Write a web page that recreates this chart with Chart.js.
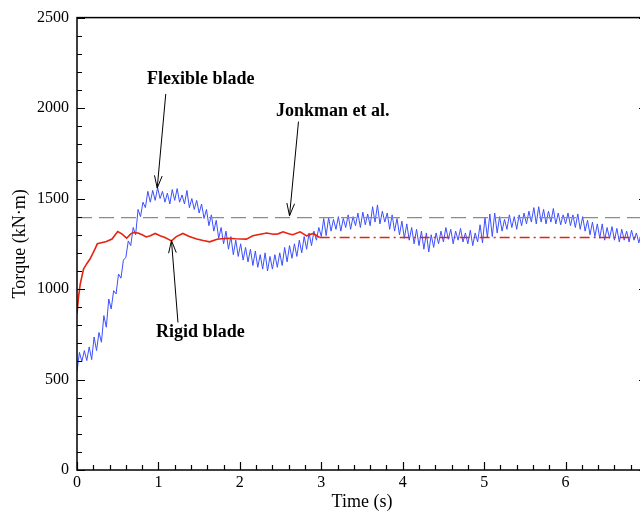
<!DOCTYPE html>
<html lang="en">
<head>
<meta charset="UTF-8">
<title>Torque</title>
<style>
  html, body { margin: 0; padding: 0; overflow: hidden; background: #fff; }
  #wrap { width: 650px; height: 514px; }
</style>
</head>
<body>
<div id="wrap"><canvas id="myChart"></canvas></div>

<script src="https://cdn.jsdelivr.net/npm/chart.js"></script>
<script>
// sampling step of the flexible blade signal (s)
const dt = 0.03;

// flexible blade torque, one value every dt
const flexTorque = [
  545, 650, 600, 660, 605, 680, 610, 735, 660, 760,
  706, 853, 789, 945, 890, 991, 973, 1083, 1060, 1160,
  1175, 1266, 1240, 1340, 1300, 1440, 1400, 1480, 1450, 1540,
  1480, 1545, 1490, 1560, 1500, 1540, 1480, 1530, 1470, 1550,
  1490, 1555, 1480, 1520, 1470, 1545, 1450, 1500, 1440, 1490,
  1420, 1470, 1390, 1440, 1350, 1410, 1320, 1380, 1280, 1340,
  1250, 1320, 1220, 1290, 1190, 1270, 1180, 1250, 1160, 1230,
  1150, 1220, 1130, 1210, 1120, 1190, 1110, 1200, 1100, 1180,
  1110, 1190, 1120, 1200, 1130, 1230, 1150, 1240, 1170, 1250,
  1180, 1270, 1200, 1290, 1220, 1310, 1240, 1320, 1270, 1340,
  1290, 1390, 1295, 1395, 1320, 1385, 1330, 1400, 1320, 1390,
  1340, 1410, 1330, 1400, 1350, 1420, 1340, 1425, 1355, 1415,
  1350, 1455, 1370, 1465, 1360, 1430, 1370, 1420, 1330, 1410,
  1320, 1390, 1300, 1375, 1280, 1360, 1270, 1340, 1250, 1330,
  1240, 1320, 1220, 1310, 1205, 1300, 1230, 1310, 1250, 1320,
  1260, 1340, 1275, 1330, 1250, 1320, 1270, 1335, 1260, 1310,
  1250, 1325, 1240, 1310, 1260, 1355, 1255, 1395, 1285, 1415,
  1290, 1420, 1310, 1400, 1320, 1385, 1330, 1410, 1340, 1400,
  1330, 1410, 1350, 1420, 1360, 1430, 1370, 1450, 1360, 1455,
  1370, 1440, 1360, 1430, 1370, 1445, 1360, 1420, 1355, 1410,
  1360, 1420, 1350, 1410, 1340, 1415, 1330, 1400, 1320, 1380,
  1300, 1370, 1290, 1360, 1280, 1360, 1270, 1340, 1280, 1345,
  1270, 1335, 1260, 1330, 1270, 1320, 1260, 1325, 1270, 1310,
  1255, 1310, 1270, 1305, 1265
];

// rigid blade torque (solid part)
const rigidTime = [0, 0.02, 0.04, 0.08, 0.12, 0.16, 0.22, 0.25, 0.3, 0.36, 0.43, 0.47, 0.5, 0.55, 0.61, 0.66, 0.69,
  0.75, 0.8, 0.85, 0.9, 0.96, 1.02, 1.08, 1.16, 1.22, 1.3, 1.38, 1.47, 1.55, 1.63, 1.72, 1.84, 1.95, 2.08,
  2.16, 2.25, 2.33, 2.41, 2.47, 2.53, 2.6, 2.65, 2.74, 2.82, 2.9, 2.98];
const rigidTorque = [865, 960, 1028, 1110, 1140, 1166, 1221, 1250, 1256, 1263, 1276, 1300, 1318, 1305, 1281, 1305, 1312,
  1310, 1300, 1288, 1295, 1307, 1295, 1285, 1266, 1290, 1307, 1290, 1276, 1268, 1261, 1275, 1281, 1278, 1276,
  1294, 1303, 1310, 1303, 1305, 1316, 1305, 1300, 1316, 1294, 1307, 1285];

// rigid blade steady value (dash-dot)
const rigidSteadyTime = [2.98, 7];
const rigidSteadyTorque = [1285, 1285];

// Jonkman et al. reference
const jonkmanTime = [0, 7];
const jonkmanTorque = [1395, 1395];

const xTicks = [0, 1, 2, 3, 4, 5, 6];
const yTicks = [0, 500, 1000, 1500, 2000, 2500];

const serif = '"Liberation Serif", "Times New Roman", serif';

const pts = (xs, ys) => ys.map((y, i) => ({ x: xs[i], y: y }));
const flexTime = flexTorque.map((v, i) => i * dt);

// labels with arrows, in data coordinates
const notes = [
  { text: 'Flexible blade', tx: 1.52, ty: 2158, x0: 1.09, y0: 2078, x1: 0.985, y1: 1558 },
  { text: 'Jonkman et al.', tx: 3.14, ty: 1982, x0: 2.72, y0: 1925, x1: 2.61, y1: 1405 },
  { text: 'Rigid blade', tx: 1.515, ty: 761, x0: 1.24, y0: 815, x1: 1.16, y1: 1268 }
];

const framePlugin = {
  id: 'frame',
  afterDraw(chart) {
    const c = chart.ctx;
    const a = chart.chartArea;
    const xs = chart.scales.x, ys = chart.scales.y;
    c.save();
    c.strokeStyle = '#000';
    c.lineWidth = 1.5;
    c.strokeRect(a.left, a.top, a.right - a.left, a.bottom - a.top);

    // inward ticks
    c.lineWidth = 1.2;
    c.beginPath();
    for (let v = 0; v <= 2500; v += 100) {
      const y = Math.round(ys.getPixelForValue(v)) + 0.5;
      const len = v % 500 === 0 ? 8 : 5;
      c.moveTo(a.left, y); c.lineTo(a.left + len, y);
      if (v % 500 === 0) { c.moveTo(a.right, y); c.lineTo(a.right - len, y); }
    }
    for (let k = 0; k <= 35; k++) {
      const x = Math.round(xs.getPixelForValue(k * 0.2)) + 0.5;
      const len = k % 5 === 0 ? 8 : 5;
      c.moveTo(x, a.bottom); c.lineTo(x, a.bottom - len);
    }
    c.stroke();

    // annotations
    c.font = 'bold 18px ' + serif;
    c.fillStyle = '#000';
    c.textAlign = 'center';
    c.textBaseline = 'middle';
    c.lineWidth = 1;
    notes.forEach(n => {
      c.fillText(n.text, xs.getPixelForValue(n.tx), ys.getPixelForValue(n.ty));
      const px0 = xs.getPixelForValue(n.x0), py0 = ys.getPixelForValue(n.y0);
      const px1 = xs.getPixelForValue(n.x1), py1 = ys.getPixelForValue(n.y1);
      const ang = Math.atan2(py1 - py0, px1 - px0);
      c.beginPath();
      c.moveTo(px0, py0); c.lineTo(px1, py1);
      c.moveTo(px1 - 13 * Math.cos(ang - 0.3), py1 - 13 * Math.sin(ang - 0.3));
      c.lineTo(px1, py1);
      c.lineTo(px1 - 13 * Math.cos(ang + 0.3), py1 - 13 * Math.sin(ang + 0.3));
      c.stroke();
    });
    c.restore();
  }
};

new Chart(document.getElementById('myChart'), {
  type: 'line',
  data: {
    datasets: [
      {
        label: 'Rigid blade',
        data: pts(rigidTime, rigidTorque),
        borderColor: 'rgb(230, 35, 15)',
        borderWidth: 1.6,
        pointRadius: 0
      },
      {
        label: 'Rigid blade steady',
        data: pts(rigidSteadyTime, rigidSteadyTorque),
        borderColor: 'rgb(230, 35, 15)',
        borderWidth: 1.6,
        borderDash: [10, 4, 2, 4],
        pointRadius: 0
      },
      {
        label: 'Jonkman et al.',
        data: pts(jonkmanTime, jonkmanTorque),
        borderColor: 'rgb(140, 140, 140)',
        borderWidth: 1.3,
        borderDash: [15, 7],
        pointRadius: 0
      },
      {
        label: 'Flexible blade',
        data: pts(flexTime, flexTorque),
        borderColor: 'rgb(60, 80, 255)',
        borderWidth: 1,
        pointRadius: 0
      }
    ]
  },
  options: {
    responsive: true,
    maintainAspectRatio: false,
    animation: false,
    layout: { padding: { top: 16, right: 3, left: 0, bottom: 0 } },
    plugins: { legend: { display: false }, tooltip: { enabled: false } },
    scales: {
      x: {
        type: 'linear',
        min: 0,
        max: 7,
        afterBuildTicks: s => { s.ticks = xTicks.map(v => ({ value: v })); },
        afterFit: s => { s.height = 44; },
        grid: { display: false, drawTicks: false },
        border: { display: false },
        ticks: { color: '#000', padding: 3, font: { family: serif, size: 16 }, callback: v => String(v) },
        title: { display: true, text: 'Time (s)', color: '#000', padding: { top: 0, bottom: 1 }, font: { family: serif, size: 18 } }
      },
      y: {
        min: 0,
        max: 2500,
        afterBuildTicks: s => { s.ticks = yTicks.map(v => ({ value: v })); },
        afterFit: s => { s.width = 77; },
        grid: { display: false, drawTicks: false },
        border: { display: false },
        ticks: { color: '#000', padding: 8, font: { family: serif, size: 16 }, callback: v => String(v) },
        title: { display: true, text: 'Torque (kN·m)', color: '#000', padding: { top: 9, bottom: 0 }, font: { family: serif, size: 18 } }
      }
    }
  },
  plugins: [framePlugin]
});
</script>
</body>
</html>
